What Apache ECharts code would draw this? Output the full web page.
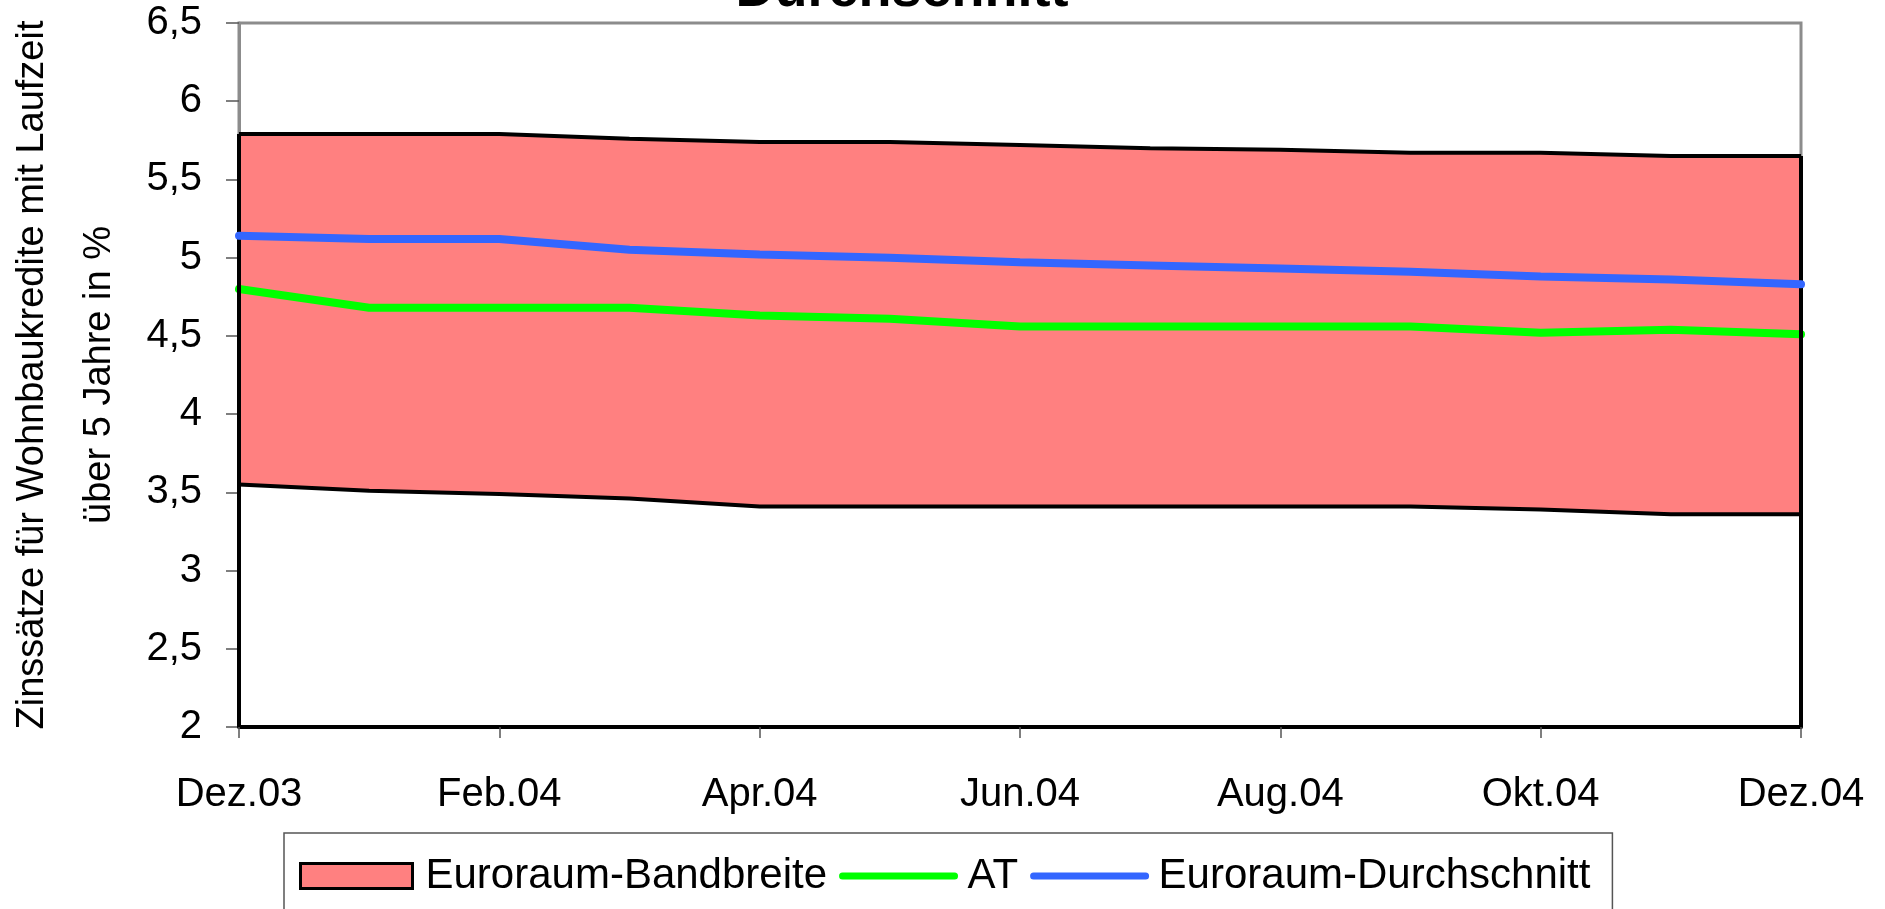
<!DOCTYPE html>
<html>
<head>
<meta charset="utf-8">
<script src="https://cdn.jsdelivr.net/npm/echarts@6/dist/echarts.min.js"></script>
<style>
html,body{margin:0;padding:0;background:#fff;}
#chart{width:1885px;height:909px;}
</style>
</head>
<body>
<div id="chart"></div>
<script>
const categories = ['Dez.03','Jan.04','Feb.04','Mär.04','Apr.04','Mai.04','Jun.04','Jul.04','Aug.04','Sep.04','Okt.04','Nov.04','Dez.04'];
const bandUpper = [5.79,5.79,5.79,5.76,5.74,5.74,5.72,5.70,5.69,5.67,5.67,5.65,5.65];
const bandLower = [3.55,3.51,3.49,3.46,3.41,3.41,3.41,3.41,3.41,3.41,3.39,3.36,3.36];
const atValues = [4.80,4.68,4.68,4.68,4.63,4.61,4.56,4.56,4.56,4.56,4.52,4.54,4.51];
const euroAvg = [5.14,5.12,5.12,5.05,5.02,5.00,4.97,4.95,4.93,4.91,4.88,4.86,4.83];
const yMin = 2, yMax = 6.5, yStep = 0.5;
const titleText = 'Durchschnitt';
const yName = 'Zinssätze für Wohnbaukredite mit Laufzeit\nüber 5 Jahre in %';

const FONT = '"Liberation Sans", Arial, sans-serif';
const chart = echarts.init(document.getElementById('chart'), null, {renderer:'canvas'});
const first = categories[0], last = categories[categories.length-1];

chart.setOption({
  animation: false,
  backgroundColor: '#fff',
  textStyle: {fontFamily: FONT},
  graphic: [{
    type: 'text', x: 902, y: -36, z: 100,
    style: {text: titleText, font: 'bold 54px ' + FONT, fill: '#000', textAlign: 'center'}
  }],
  grid: {left: 239, right: 84, top: 23, bottom: 182, containLabel: false, outerBoundsMode: 'none',
    show: true, borderColor: '#8c8c8c', borderWidth: 3, backgroundColor: 'transparent'},
  legend: {
    left: 284, top: 833, orient: 'horizontal',
    padding: [22, 22, 40, 15],
    borderColor: '#555', borderWidth: 1.5,
    itemWidth: 112, itemHeight: 25, itemGap: 12,
    lineStyle: {width: 7},
    textStyle: {fontSize: 42, color: '#000', fontFamily: FONT, padding: [0,0,0,8]},
    data: [
      {name: 'Euroraum-Bandbreite', icon: 'rect', itemStyle: {color: '#FF8080', borderColor: '#000', borderWidth: 3}},
      {name: 'AT', itemStyle: {opacity: 0}},
      {name: 'Euroraum-Durchschnitt', itemStyle: {opacity: 0}}
    ]
  },
  xAxis: {
    type: 'category', data: categories, boundaryGap: false, z: 10,
    axisLine: {lineStyle: {color: '#000', width: 4}},
    axisTick: {interval: 1, length: 11, lineStyle: {color: '#555', width: 1.5}},
    axisLabel: {interval: 1, fontSize: 40, color: '#000', margin: 48, fontFamily: FONT},
    splitLine: {show: false}
  },
  yAxis: {
    type: 'value', min: yMin, max: yMax, interval: yStep,
    name: yName, nameLocation: 'middle', nameGap: 106, nameRotate: 90,
    nameTextStyle: {fontSize: 38, color: '#000', lineHeight: 67, fontFamily: FONT, align: 'center'},
    axisLine: {show: true, lineStyle: {color: '#8c8c8c', width: 3}},
    axisTick: {show: true, length: 13, lineStyle: {color: '#555', width: 1.5}},
    axisLabel: {fontSize: 40, color: '#000', margin: 37, fontFamily: FONT,
      formatter: v => String(v).replace('.', ',')},
    splitLine: {show: false}
  },
  series: [
    {
      name: 'Euroraum-Bandbreite', type: 'line', data: bandUpper,
      symbol: 'none', z: 2,
      lineStyle: {color: '#000', width: 4},
      itemStyle: {color: '#FF8080'},
      areaStyle: {color: '#FF8080', opacity: 1, origin: 'start'},
      markLine: {
        silent: true, symbol: 'none', label: {show: false},
        lineStyle: {color: '#000', width: 4, type: 'solid'},
        data: [
          [{coord: [first, yMin]}, {coord: [first, bandUpper[0]]}],
          [{coord: [last, yMin]}, {coord: [last, bandUpper[bandUpper.length-1]]}]
        ]
      }
    },
    {
      name: 'Untergrenze', type: 'line', data: bandLower,
      symbol: 'none', z: 3,
      lineStyle: {color: '#000', width: 4},
      areaStyle: {color: '#fff', opacity: 1, origin: 'start'}
    },
    {
      name: 'AT', type: 'line', data: atValues, symbol: 'none', z: 4,
      lineStyle: {color: '#00FF00', width: 8, cap: 'round'},
      itemStyle: {color: '#00FF00'}
    },
    {
      name: 'Euroraum-Durchschnitt', type: 'line', data: euroAvg, symbol: 'none', z: 5,
      lineStyle: {color: '#3366FF', width: 8, cap: 'round'},
      itemStyle: {color: '#3366FF'}
    }
  ]
});
</script>
</body>
</html>
